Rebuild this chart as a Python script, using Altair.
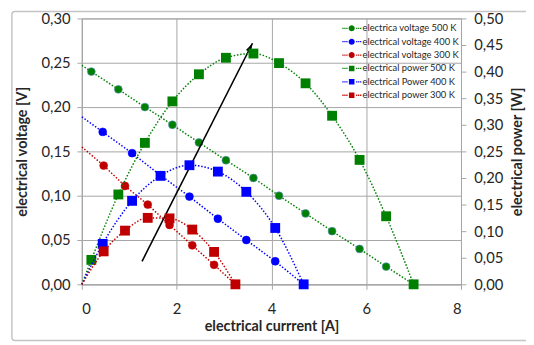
import altair as alt
import pandas as pd

# ---------------- data ----------------
series = ["500 K", "400 K", "300 K"]
colors = ["#008000", "#0000FF", "#C00000"]

current_500 = [0.20, 0.77, 1.33, 1.91, 2.47, 3.04, 3.62, 4.16, 4.72, 5.28, 5.86, 6.42, 7.00]
voltage_500 = [0.240, 0.220, 0.200, 0.180, 0.160, 0.140, 0.120, 0.100, 0.080, 0.060, 0.040, 0.020, 0.000]
power_500 = [0.046, 0.169, 0.266, 0.344, 0.395, 0.426, 0.434, 0.416, 0.378, 0.317, 0.234, 0.128, 0.000]

current_400 = [0.44, 1.06, 1.66, 2.27, 2.87, 3.47, 4.08, 4.68]
voltage_400 = [0.172, 0.148, 0.123, 0.099, 0.074, 0.050, 0.026, 0.000]
power_400 = [0.076, 0.157, 0.204, 0.224, 0.212, 0.174, 0.106, 0.000]

current_300 = [0.46, 0.91, 1.39, 1.85, 2.33, 2.79, 3.24]
voltage_300 = [0.134, 0.111, 0.090, 0.067, 0.044, 0.022, 0.000]
power_300 = [0.062, 0.101, 0.125, 0.124, 0.103, 0.061, 0.000]

# where the dotted trend lines meet the I = 0 axis
voltage_at_zero = [0.247, 0.189, 0.155]
power_at_zero = [0.0, 0.0, 0.0]

legend_labels = [
    "electrica voltage 500 K",
    "electrical voltage 400 K",
    "electrical voltage 300 K",
    "electrical power 500 K",
    "electrical Power 400 K",
    "electrical power 300 K",
]

arrow_current = [1.27, 3.60]
arrow_voltage = [0.026, 0.272]

x_ticks = [0, 2, 4, 6, 8]
v_ticks = [0.0, 0.05, 0.10, 0.15, 0.20, 0.25, 0.30]
p_ticks = [0.0, 0.05, 0.10, 0.15, 0.20, 0.25, 0.30, 0.35, 0.40, 0.45, 0.50]

# ---------------- styling ----------------
FONT = "Lato"
TXT = "#262626"
GRID = "#a6a6a6"
W, H = 385, 270
comma = "replace(format(datum.value, '.2f'), '.', ',')"


def xenc():
    return alt.X(
        "I:Q",
        scale=alt.Scale(domain=[0, 8], nice=False),
        axis=alt.Axis(
            values=x_ticks, grid=True, title="electrical currrent [A]",
            titleX=W / 2, titleY=43, titleBaseline="middle",
            labelPadding=13, tickSize=5,
        ),
    )


def venc(field):
    return alt.Y(
        field,
        scale=alt.Scale(domain=[0, 0.30], nice=False),
        axis=alt.Axis(
            values=v_ticks, grid=True, orient="left", labelExpr=comma,
            title="electrical voltage [V]", titleAngle=270,
            titleX=-60, titleY=H / 2, titleBaseline="middle",
            labelPadding=7, tickSize=5,
        ),
    )


def penc(field):
    return alt.Y(
        field,
        scale=alt.Scale(domain=[0, 0.50], nice=False),
        axis=alt.Axis(
            values=p_ticks, grid=False, orient="right", labelExpr=comma,
            title="electrical power [W]", titleAngle=270,
            titleX=57, titleY=H / 2, titleBaseline="middle",
            labelPadding=8, tickSize=5,
        ),
    )


data_sets = [
    (current_500, voltage_500, power_500),
    (current_400, voltage_400, power_400),
    (current_300, voltage_300, power_300),
]

v_layers = []
p_layers = []
for k, (cur, vol, pw) in enumerate(data_sets):
    col = colors[k]
    pts = pd.DataFrame({"I": cur, "V": vol, "P": pw})
    vline = pd.DataFrame({"I": [0.0] + cur, "V": [voltage_at_zero[k]] + vol})
    pline = pd.DataFrame({"I": [0.0] + cur, "P": [power_at_zero[k]] + pw})

    v_layers.append(
        alt.Chart(vline).mark_line(color=col, strokeWidth=1.5, strokeDash=[1.5, 1.8])
        .encode(x=xenc(), y=venc("V:Q"))
    )
    v_layers.append(
        alt.Chart(pts).mark_point(filled=True, shape="circle", size=64, color=col,
                                  opacity=1, stroke="#5b8fc7" if k == 0 else col,
                                  strokeWidth=0.6)
        .encode(x=xenc(), y=venc("V:Q"))
    )
    p_layers.append(
        alt.Chart(pline).mark_line(color=col, strokeWidth=1.5, strokeDash=[1.5, 1.8],
                                   interpolate="monotone")
        .encode(x=xenc(), y=penc("P:Q"))
    )
    p_layers.append(
        alt.Chart(pts).mark_point(filled=True, shape="square", size=100, color=col, opacity=1)
        .encode(x=xenc(), y=penc("P:Q"))
    )

arrow_df = pd.DataFrame({"I": arrow_current, "V": arrow_voltage})
arrow_line = alt.Chart(arrow_df).mark_line(color="black", strokeWidth=1.6).encode(
    x=xenc(), y=venc("V:Q"))
arrow_head = alt.Chart(arrow_df.iloc[[1]]).mark_point(
    shape="M0,0L-0.6,1.9L0.6,1.9Z", angle=27, size=90, filled=True,
    color="black", fill="black", opacity=1, strokeWidth=0
).encode(x=xenc(), y=venc("V:Q"))

voltage_group = alt.layer(*v_layers, arrow_line, arrow_head)
power_group = alt.layer(*p_layers)


# legend symbols: dotted line with marker in the middle (unit = 5 px)
def dots():
    s = ""
    for px in [-9.5, -7.5, -5.5, 4.5, 6.5, 8.5]:
        u = px / 5.0
        s += f"M{u:.2f},-0.13h0.26v0.26h-0.26Z"
    return s


circle_sym = dots() + "M-0.62,0A0.62,0.62,0,1,0,0.62,0A0.62,0.62,0,1,0,-0.62,0Z"
square_sym = dots() + "M-0.56,-0.56h1.12v1.12h-1.12Z"
legend_shapes = [circle_sym] * 3 + [square_sym] * 3
legend_colors = colors + colors

leg_props = dict(
    orient="none", legendX=269, legendY=5, padding=0,
    labelFont=FONT, labelFontSize=9.5, labelColor=TXT, labelOffset=6,
    symbolSize=100, symbolStrokeWidth=0, rowPadding=3.6,
)
legend_layer = alt.Chart(pd.DataFrame({"label": legend_labels})).mark_point(
    filled=True, opacity=1
).encode(
    color=alt.Color("label:N", title=None,
                    scale=alt.Scale(domain=legend_labels, range=legend_colors),
                    legend=alt.Legend(**leg_props)),
    shape=alt.Shape("label:N", title=None,
                    scale=alt.Scale(domain=legend_labels, range=legend_shapes),
                    legend=alt.Legend(**leg_props)),
).transform_filter("false")

frame = alt.Chart(pd.DataFrame({"a": [0]})).mark_rect(
    fill="white", fillOpacity=0, stroke="#c4c4c4", strokeWidth=1.5, cornerRadius=3
).encode(x=alt.value(-71), x2=alt.value(470), y=alt.value(-7), y2=alt.value(327))

chart = alt.layer(frame, voltage_group, power_group, legend_layer).resolve_scale(
    y="independent"
).properties(
    width=W, height=H,
    autosize=alt.AutoSizeParams(type="none"),
    padding={"left": 75, "top": 8, "right": 66, "bottom": 59},
    background="white",
).configure_axis(
    gridColor=GRID, gridWidth=1, domainColor=GRID, tickColor=GRID,
    labelFont=FONT, labelFontSize=15, labelColor=TXT,
    titleFont=FONT, titleFontSize=14.5, titleFontWeight="bold", titleColor=TXT,
).configure_view(stroke=GRID, strokeWidth=1)

chart.save("out.html", embed_options={"renderer": "svg", "actions": False})
